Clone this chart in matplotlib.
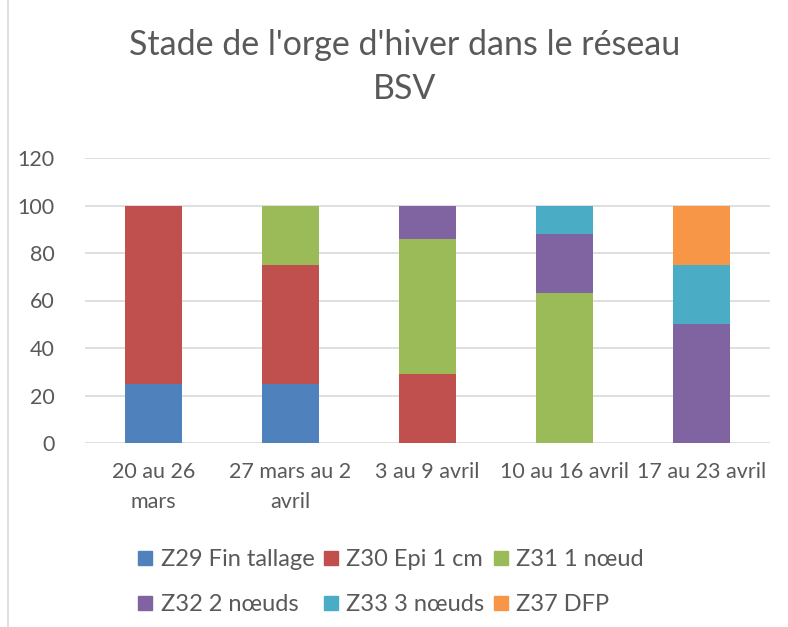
import matplotlib
matplotlib.use("Agg")
import matplotlib.pyplot as plt
from matplotlib.lines import Line2D
import numpy as np

plt.rcParams['font.family'] = ['Lato', 'DejaVu Sans']

weeks = ["20 au 26\nmars", "27 mars au 2\navril", "3 au 9 avril",
         "10 au 16 avril", "17 au 23 avril"]
stages = ["Z29 Fin tallage", "Z30 Epi 1 cm", "Z31 1 nœud",
          "Z32 2 nœuds", "Z33 3 nœuds", "Z37 DFP"]
z29 = [25, 25, 0, 0, 0]
z30 = [75, 50, 29, 0, 0]
z31 = [0, 25, 57, 63, 0]
z32 = [0, 0, 14, 25, 50]
z33 = [0, 0, 0, 12, 25]
z37 = [0, 0, 0, 0, 25]
series = [z29, z30, z31, z32, z33, z37]
colors = ["#4f81bd", "#c0504d", "#9bbb59", "#8064a2", "#4bacc6", "#f79646"]

fig = plt.figure(figsize=(7.88, 6.27), dpi=100)
ax = fig.add_axes([85 / 788, 1 - 443 / 627, 685 / 788, 285 / 627])

x = np.arange(len(weeks))
bottom = np.zeros(len(weeks))
for vals, col, name in zip(series, colors, stages):
    ax.bar(x, vals, 0.41, bottom=bottom, color=col, label=name, zorder=3)
    bottom += np.array(vals)

ax.set_xlim(-0.5, len(weeks) - 0.5)
ax.set_ylim(0, 120)
ax.set_yticks(range(0, 121, 20))
ax.set_xticks(x)
ax.set_xticklabels(weeks, linespacing=1.6)
ax.yaxis.grid(True, color="#d9d9d9", linewidth=1.2, zorder=0)
for s in ax.spines.values():
    s.set_visible(False)
ax.tick_params(length=0, labelsize=15.5, colors="#595959")
ax.tick_params(axis='y', pad=22)
ax.tick_params(axis='x', pad=14)

fig.text(405 / 788, 1 - 45 / 627, "Stade de l'orge d'hiver dans le réseau",
         ha='center', va='center', fontsize=24.5, color="#595959")
fig.text(405 / 788, 1 - 89 / 627, "BSV",
         ha='center', va='center', fontsize=24.5, color="#595959")

# legend filled row by row, as in the reference
order = [0, 3, 1, 4, 2, 5]
handles = [Line2D([], [], marker='s', linestyle='none', markersize=10,
                  markerfacecolor=colors[i], markeredgecolor=colors[i])
           for i in order]
labels = [stages[i] for i in order]
leg = fig.legend(handles, labels, loc='center', ncol=3,
                 bbox_to_anchor=(390 / 788, 1 - 582 / 627),
                 frameon=False, fontsize=17, handletextpad=0.25,
                 columnspacing=0.3, labelspacing=1.0, handlelength=0.8)
for t in leg.get_texts():
    t.set_color("#595959")

fig.add_artist(Line2D([8 / 788, 8 / 788], [0, 1], color="#d9d9d9",
                      linewidth=1.2, transform=fig.transFigure))

fig.savefig("out.png", dpi=100)
